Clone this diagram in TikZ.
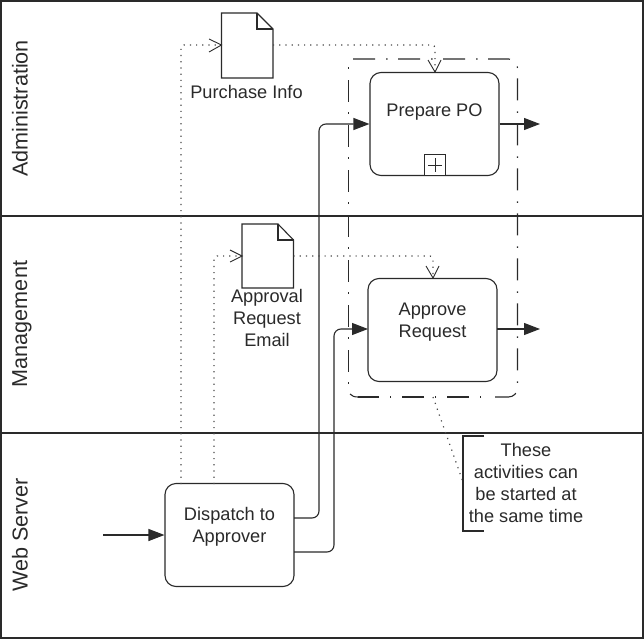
\documentclass[tikz,border=0pt]{standalone}
\usepackage{fontspec}
\setmainfont{Liberation Sans}
\usetikzlibrary{arrows.meta}
\definecolor{ink}{HTML}{2A2A2A}
\tikzset{
  x=1pt,y=-1pt,
  task/.style={draw=ink,line width=1.1pt,rounded corners=11pt,fill=white,minimum width=129pt,minimum height=103pt,inner sep=0pt},
  lanelabel/.style={rotate=90,font=\fontsize{21.6}{24}\selectfont,text=ink,inner sep=0pt},
  lbl/.style={align=center,font=\fontsize{18.2}{22}\selectfont,text=ink,inner sep=0pt},
  flow/.style={draw=ink,line width=1.1pt,rounded corners=7pt,-{Triangle[length=16pt,width=12pt]}},
  msg/.style={draw=ink!85,line width=1.2pt,dash pattern=on 1.2pt off 5pt,rounded corners=3pt},
  msgtip/.style={draw=ink,line width=.9pt},
  docline/.style={draw=ink,line width=1.1pt,line join=miter},
  lane/.style={draw=ink,line width=1.2pt},
  group/.style={draw=ink,line width=1.1pt,dash pattern=on 22pt off 11pt on 1.5pt off 10.5pt,rounded corners=9pt}
}
\begin{document}
\begin{tikzpicture}
\useasboundingbox (0,0) rectangle (644,639);
% frame and lanes
\coordinate (tl) at (1,1);\coordinate (tr) at (643,1);
\coordinate (bl) at (1,638);\coordinate (br) at (643,638);
\coordinate (l1) at (1,216);\coordinate (r1) at (643,216);
\coordinate (l2) at (1,433);\coordinate (r2) at (643,433);
\draw[lane] (tl) -- (tr) -- (br) -- (bl) -- cycle;
\draw[lane] (l1) -- (r1);
\draw[lane] (l2) -- (r2);
\node[lanelabel] (ladmin) at (20,108.5) {Administration};
\node[lanelabel] (lmgmt) at (22,324) {Management};
\node[lanelabel] (lweb) at (20,535) {Web Server};
% group
\draw[group] (353,59) -- (517.5,59) -- (517.5,397) -- (495,397);
\draw[group,dash phase=33pt] (481,397) -- (358,397);
\draw[ink,line width=1.1pt] (358,397) .. controls (354,397) and (352,396) .. (350,394);
\draw[group,dash phase=33pt] (348.5,383.75) -- (348.5,67);
% tasks
\node[task] (po) at (434.5,124) {};
\node[task] (ar) at (432.5,330) {};
\node[task] (dp) at (229.5,535) {};
\node[lbl] (potxt) at (434.5,112) {Prepare PO};
\node[lbl] (artxt) at (432.5,322) {Approve\\Request};
\node[lbl] (dptxt) at (229.5,527) {Dispatch to\\Approver};
% sub-process marker
\node[draw=ink,line width=1.1pt,fill=white,minimum size=21pt,inner sep=0pt] (plus) at (435,165) {};
\draw[ink,line width=.8pt] (plus.center) ++(-7,0) coordinate (pa) -- ++(14,0) coordinate (pb);
\draw[ink,line width=.8pt] (plus.center) ++(0,-7) coordinate (pc) -- ++(0,14) coordinate (pd);
% documents
\draw[docline,fill=white] (221.5,13) -- (257,13) -- (273,29) -- (273,78) -- (221.5,78) -- cycle;
\draw[docline] (257,13) -- (257,29) -- (273,29);
\node[lbl] (pi) at (246.5,92) {Purchase Info};
\draw[docline,fill=white] (242,224) -- (278,224) -- (293.5,240) -- (293.5,288) -- (242,288) -- cycle;
\draw[docline] (278,224) -- (278,240) -- (293.5,240);
\node[lbl] (are) at (267,318) {Approval\\Request\\Email};
\coordinate (doc1w) at (221.5,45);\coordinate (doc1e) at (273,45);
\coordinate (doc2w) at (242,256);\coordinate (doc2e) at (293.5,256);
% sequence flows
\coordinate (o1) at (540,124);\coordinate (o2) at (540,329);\coordinate (in) at (103,535);
\draw[flow] (in) -- (dp.west);
\draw[flow] (294,518) -- (319,518) -- (319,124) -- (po.west);
\draw[flow] (294,552) -- (334,552) -- (334,329) -- (368,329);
\draw[flow] (po.east) -- (o1);
\draw[flow] (497,329) -- (o2);
% message flows
\draw[msg] (181,484) -- (181,45) -- (doc1w);
\draw[msg] (214,484) -- (214,256) -- (doc2w);
\draw[msg] (doc1e) -- (435,45) -- (435,72);
\draw[msg] (doc2e) -- (433,256) -- (433,278);
\draw[msgtip] (209,39) -- (221.5,45) -- (209,52);
\draw[msgtip] (230,250) -- (242,256) -- (230,262);
\draw[msgtip] (428,60) -- (435,72) -- (441,60);
\draw[msgtip] (426,266) -- (433,278) -- (439,266);
% annotation
\coordinate (ann) at (463,482);
\draw[msg] (433,397) -- (ann);
\draw[ink,line width=1.1pt] (484,436) -- (463,436) -- (463,531) -- (484,531);
\node[lbl] (note) at (526,483) {These\\activities can\\be started at\\the same time};
\end{tikzpicture}
\end{document}
